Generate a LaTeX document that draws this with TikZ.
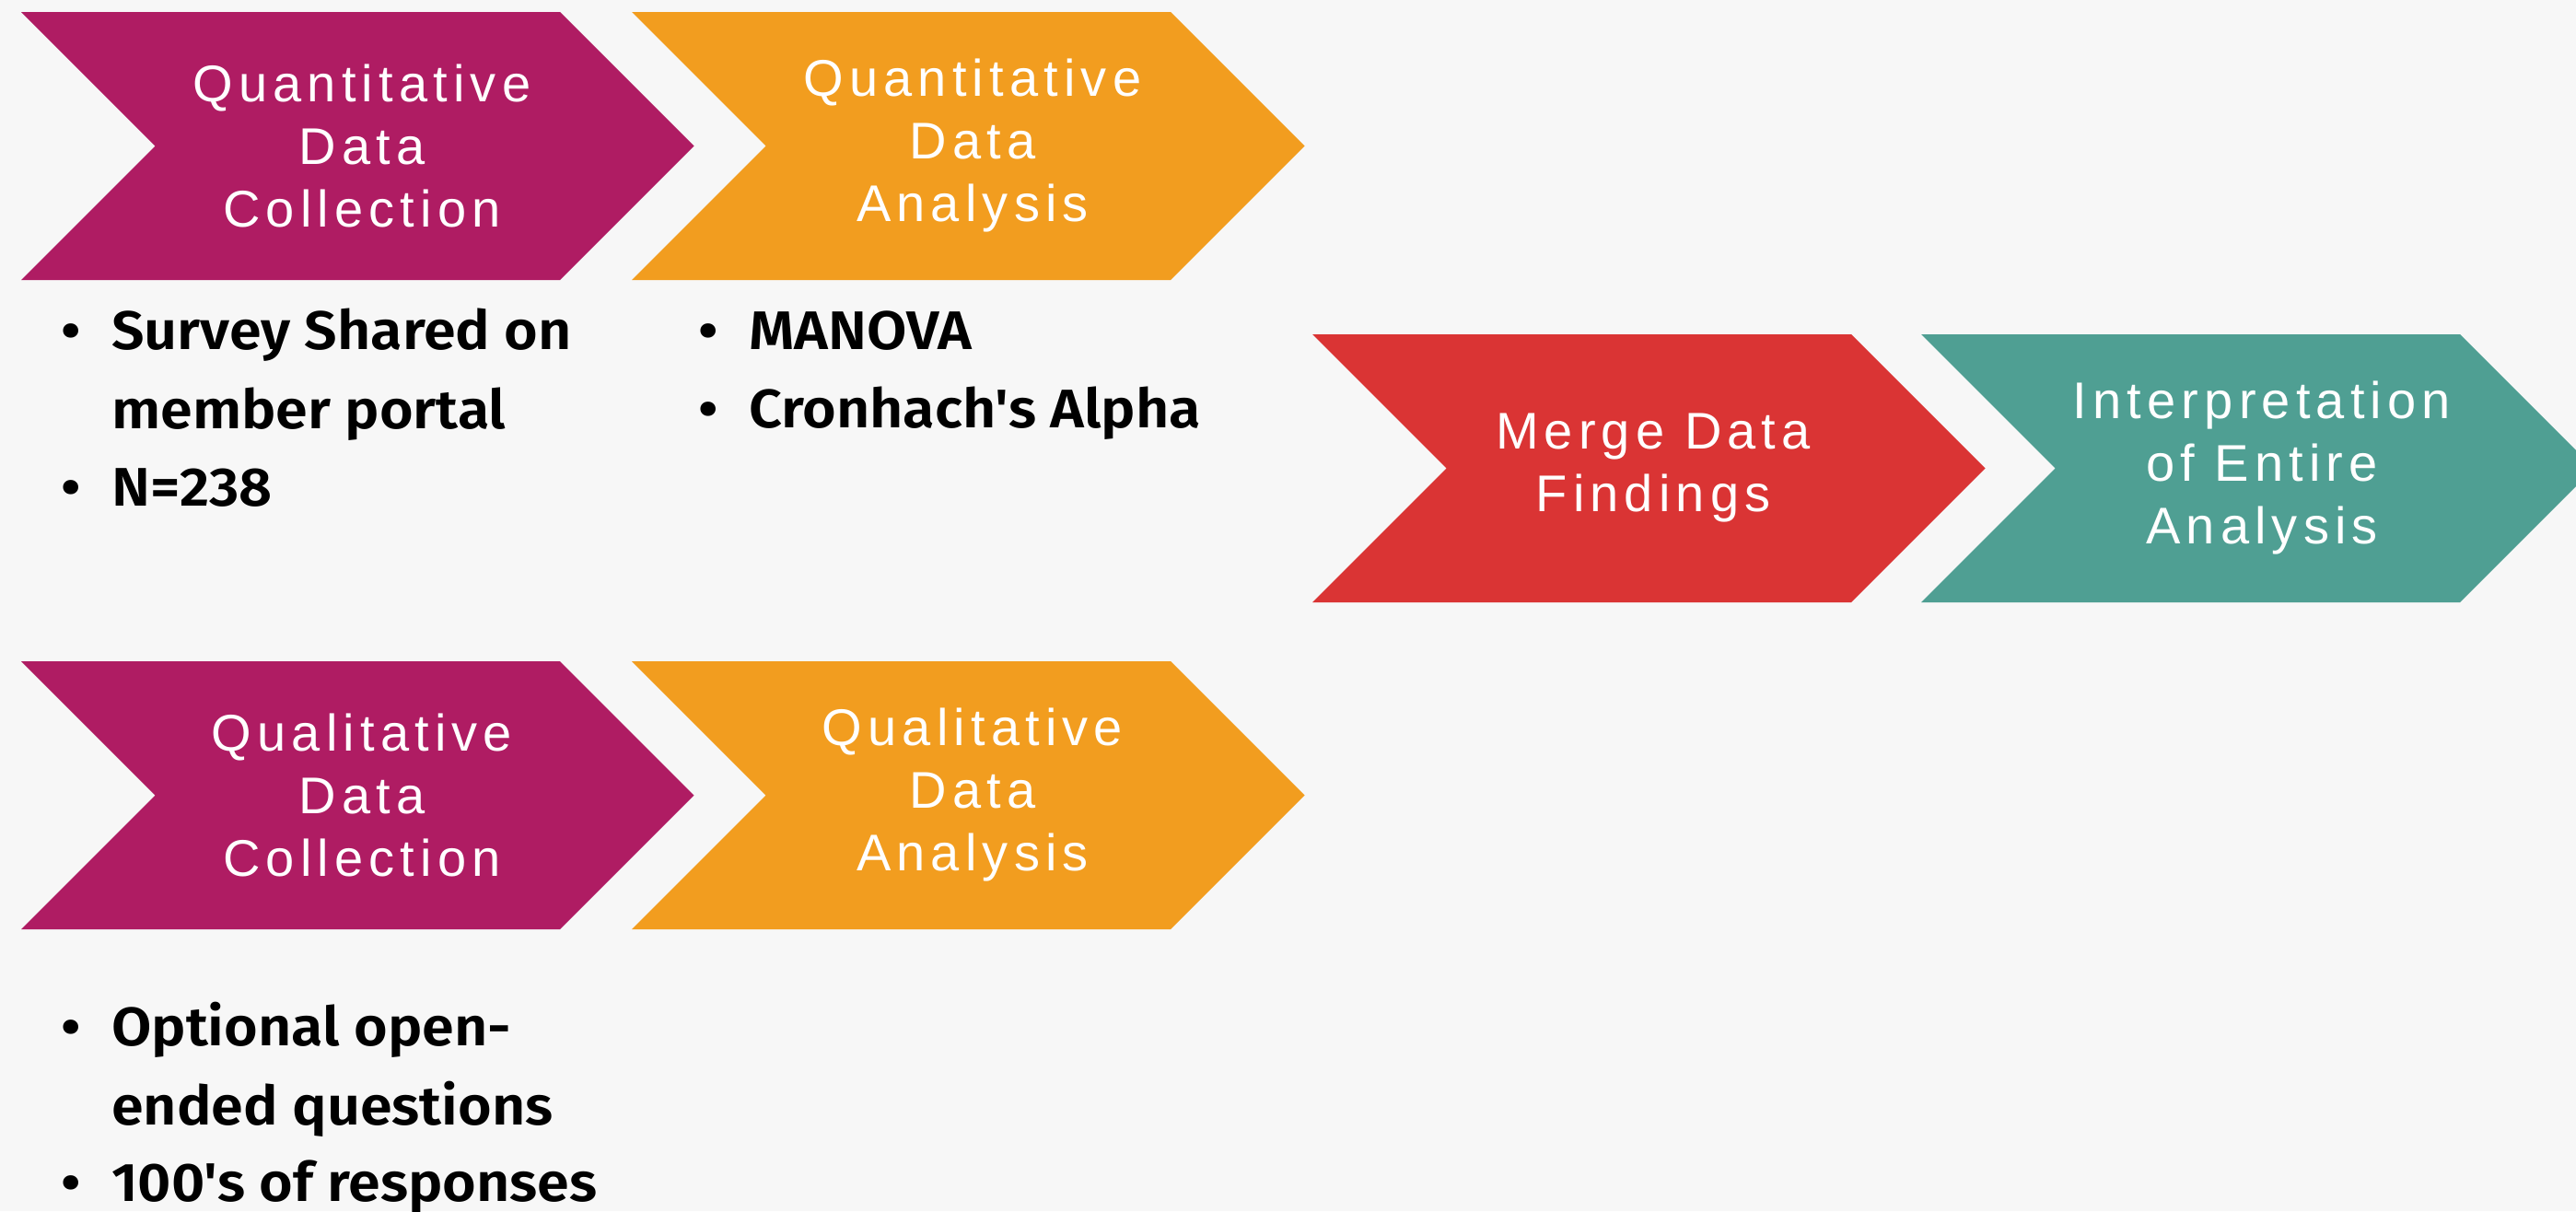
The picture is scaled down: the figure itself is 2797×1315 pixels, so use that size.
\documentclass[tikz,border=0pt]{standalone}
\usepackage{fontspec}
\setmainfont{Liberation Sans}
\newfontfamily\chevfont[LetterSpace=11]{Liberation Sans}
\newfontfamily\notefont{Fira Sans}[UprightFont=* SemiBold, FakeStretch=1.065]
\definecolor{bgpaper}{HTML}{F7F7F7}
\definecolor{plum}{HTML}{AF1C63}
\definecolor{amber}{HTML}{F29D1F}
\definecolor{brick}{HTML}{DA3434}
\definecolor{sea}{HTML}{4F9F93}
\tikzset{
  chevtext/.style={text=white, align=center, inner sep=0pt,
    font=\chevfont\fontsize{56}{68}\selectfont},
  notetext/.style={text=black, anchor=base west, inner sep=0pt,
    font=\notefont\fontsize{59}{85}\selectfont},
  notedot/.style={text=black, anchor=base, inner sep=0pt,
    font=\notefont\fontsize{59}{85}\selectfont},
}
% chevron: #1 name, #2 left x, #3 top y, #4 colour, #5 label
\newcommand\chevron[5]{%
  \fill[#4] (#2,#3) -- ++(585,0) -- ++(145.5,145.5) -- ++(-145.5,145.5)
    -- ++(-585,0) -- ++(145.5,-145.5) -- cycle;
  \node[chevtext] (#1) at ({#2+370},{#3+145.5}) {#5};
}
\begin{document}
\begin{tikzpicture}[x=1pt,y=-1pt]
  \useasboundingbox (0,0) rectangle (2797,1315);
  \fill[bgpaper] (0,0) rectangle (2797,1315);
  \begin{scope}
    \clip (0,0) rectangle (2797,1315);
    \chevron{qnc}{23}{13}{plum}{Quantitative\\Data\\Collection}
    \chevron{qna}{686}{13}{amber}{Quantitative\\Data\\Analysis}
    \chevron{merge}{1425}{363}{brick}{Merge Data\\Findings}
    \chevron{interp}{2086}{363}{sea}{Interpretation\\of Entire\\Analysis}
    \chevron{qlc}{23}{718}{plum}{Qualitative\\Data\\Collection}
    \chevron{qla}{686}{718}{amber}{Qualitative\\Data\\Analysis}
  \end{scope}
  % notes under the quantitative steps
  \node[notedot] (d1) at (77,379) {•};
  \node[notetext] (n1) at (121,379) {Survey Shared on};
  \node[notetext] (n1b) at (121,465) {member portal};
  \node[notedot] (d2) at (77,549) {•};
  \node[notetext] (n2) at (121,549) {N=238};
  \node[notedot] (d3) at (769,379) {•};
  \node[notetext] (n3) at (813,379) {MANOVA};
  \node[notedot] (d4) at (769,464) {•};
  \node[notetext] (n4) at (813,464) {Cronhach's Alpha};
  % notes under the qualitative steps
  \node[notedot] (d5) at (77,1135) {•};
  \node[notetext] (n5) at (121,1135) {Optional open-};
  \node[notetext] (n5b) at (121,1221) {ended questions};
  \node[notedot] (d6) at (77,1304) {•};
  \node[notetext] (n6) at (121,1304) {100's of responses};
\end{tikzpicture}
\end{document}
